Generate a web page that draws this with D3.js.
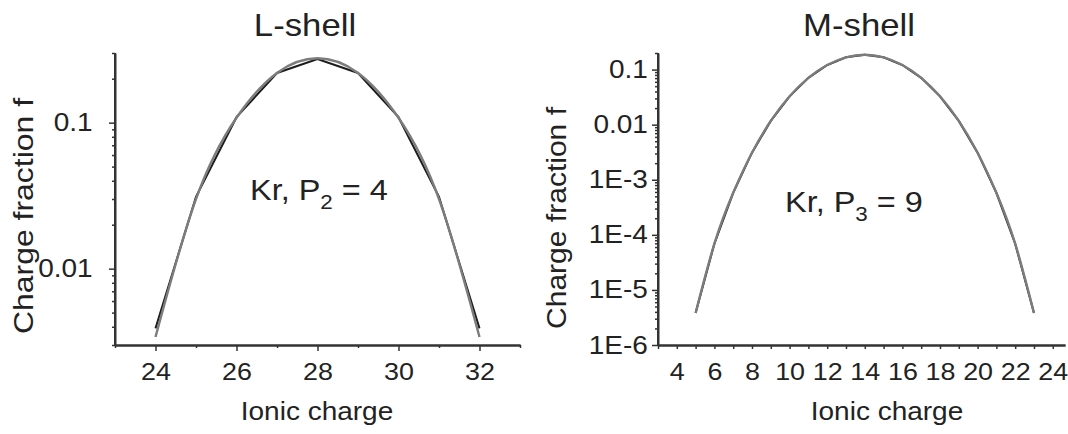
<!DOCTYPE html>
<html lang="en">
<head>
<meta charset="utf-8">
<title>Charge fraction - L-shell / M-shell</title>
<style>
body { margin: 0; background: #fff; }
svg text { font-family: "Liberation Sans", Arial, sans-serif; fill: #222; }
.axis path, .axis line { stroke: #333; fill: none; }
.axis path { stroke-width: 2; }
.axis line { stroke-width: 1.5; }
</style>
</head>
<body>
<div id="chart"></div>
<script src="https://d3js.org/d3.v7.min.js"></script>
<script>
  // ---- L-shell data (Kr, P2 = 4) ----
  const lCharge = [24, 25, 26, 27, 28, 29, 30, 31, 32];
  const lPoints = [0.0039, 0.031, 0.109, 0.219, 0.273, 0.219, 0.109, 0.031, 0.0039];
  const lSmooth = [0.0034, 0.030, 0.108, 0.219, 0.276, 0.219, 0.108, 0.030, 0.0034];
  const lXTicks = [24, 26, 28, 30, 32];
  const lXMinor = [23, 25, 27, 29, 31, 33];
  const lYTicks = [0.01, 0.1];
  const lYLabels = ["0.01", "0.1"];

  // ---- M-shell data (Kr, P3 = 9) ----
  const mCharge = [5, 6, 7, 8, 9, 10, 11, 12, 13, 14, 15, 16, 17, 18, 19, 20, 21, 22, 23];
  const mPoints = [3.8e-6, 6.9e-5, 5.8e-4, 3.1e-3, 0.0117, 0.0327, 0.0708, 0.121, 0.167, 0.186,
                   0.167, 0.121, 0.0708, 0.0327, 0.0117, 3.1e-3, 5.8e-4, 6.9e-5, 3.8e-6];
  const mXTicks = [4, 6, 8, 10, 12, 14, 16, 18, 20, 22, 24];
  const mXMinor = [3, 5, 7, 9, 11, 13, 15, 17, 19, 21, 23];
  const mYTicks = [1e-6, 1e-5, 1e-4, 1e-3, 0.01, 0.1];
  const mYLabels = ["1E-6", "1E-5", "1E-4", "1E-3", "0.01", "0.1"];

  const width = 1068, height = 434;
  const sx = 1.12; // text in the figure is a bit wide

  const svg = d3.select("#chart").append("svg")
    .attr("width", width)
    .attr("height", height);

  // minor ticks for a log axis: 2..9 of every decade inside the domain
  function logMinor(domain) {
    const out = [];
    for (let e = -7; e <= 0; e++) {
      for (let m = 2; m <= 9; m++) {
        const v = m * Math.pow(10, e);
        if (v >= domain[0] * 0.999 && v <= domain[1] * 1.001) out.push(v);
      }
    }
    return out;
  }

  function addText(g, x, y, str, size, opts = {}) {
    const t = g.append("text")
      .attr("transform", `translate(${x},${y}) scale(${sx},1)` + (opts.rotate ? " rotate(-90)" : ""))
      .attr("font-size", size)
      .attr("text-anchor", opts.anchor || "middle")
      .text(str);
    if (opts.len) t.attr("textLength", opts.len).attr("lengthAdjust", "spacingAndGlyphs");
    return t;
  }

  function panel(cfg) {
    const g = svg.append("g");
    const x = d3.scaleLinear().domain(cfg.xDomain).range(cfg.xRange);
    const y = d3.scaleLog().domain(cfg.yDomain).range([345, 53]);

    // x axis: minor then major
    g.append("g").attr("class", "axis")
      .attr("transform", "translate(0,345)")
      .call(d3.axisBottom(x).tickValues(cfg.xMinor).tickSize(cfg.xMinorSize).tickSizeOuter(0).tickFormat(""));
    const xa = g.append("g").attr("class", "axis")
      .attr("transform", "translate(0,345)")
      .call(d3.axisBottom(x).tickValues(cfg.xTicks).tickSize(cfg.xMajorSize).tickSizeOuter(0)
        .tickPadding(18 - cfg.xMajorSize).tickFormat(d3.format("d")));
    xa.selectAll("text").attr("font-size", 24).attr("fill", "#222")
      .attr("font-family", null).attr("transform", `scale(${sx},1)`);

    // y axis: minor then major
    g.append("g").attr("class", "axis")
      .attr("transform", `translate(${cfg.xRange[0]},0)`)
      .call(d3.axisLeft(y).tickValues(logMinor(cfg.yDomain)).tickSize(3).tickSizeOuter(0).tickFormat(""));
    const ya = g.append("g").attr("class", "axis")
      .attr("transform", `translate(${cfg.xRange[0]},0)`)
      .call(d3.axisLeft(y).tickValues(cfg.yTicks).tickSize(6).tickSizeOuter(0)
        .tickPadding(cfg.yPad).tickFormat((d, i) => cfg.yLabels[i]));
    ya.selectAll("text").attr("font-size", 25).attr("fill", "#222")
      .attr("font-family", null).attr("transform", `scale(${sx},1)`);
    ya.selectAll("path.domain").attr("d", `M0,${y.range()[0]}V${y.range()[1]}`);

    // curves
    const pts = cfg.charge.map((c, i) => [c, cfg.points[i]]);
    const smooth = cfg.charge.map((c, i) => [c, cfg.smooth[i]]);
    g.append("path")
      .datum(pts)
      .attr("fill", "none")
      .attr("stroke", "#1c1c1c")
      .attr("stroke-width", 2)
      .attr("d", d3.line().x(d => x(d[0])).y(d => y(d[1])));
    g.append("path")
      .datum(smooth)
      .attr("fill", "none")
      .attr("stroke", "#7c7c7c")
      .attr("stroke-width", 2.4)
      .attr("d", d3.line().curve(d3.curveNatural).x(d => x(d[0])).y(d => y(d[1])));

    // titles and labels
    addText(g, cfg.title[1], 36, cfg.title[0], 31);
    addText(g, cfg.xLabelX, 420, "Ionic charge", 25);
    addText(g, cfg.yLabelX, cfg.yLabelY, "Charge fraction f", 24, { rotate: true, len: cfg.yLabelLen })
      .attr("dy", "0.35em");

    const note = g.append("text")
      .attr("transform", `translate(${cfg.note.x},${cfg.note.y}) scale(${sx},1)`)
      .attr("font-size", 29);
    note.append("tspan").text("Kr, P");
    note.append("tspan").attr("font-size", 20).attr("dy", 9).text(cfg.note.sub);
    note.append("tspan").attr("dy", -9).text(" = " + cfg.note.val);
  }

  panel({
    xDomain: [23, 33], xRange: [115, 520],
    yDomain: [0.003, 0.3],
    xTicks: lXTicks, xMinor: lXMinor, xMajorSize: 6, xMinorSize: 3,
    yTicks: lYTicks, yLabels: lYLabels, yPad: 14,
    charge: lCharge, points: lPoints, smooth: lSmooth,
    title: ["L-shell", 305],
    xLabelX: 317, yLabelX: 24, yLabelY: 216, yLabelLen: 236,
    note: { x: 250, y: 200, sub: "2", val: "4" }
  });

  panel({
    xDomain: [3, 24.65], xRange: [658, 1065],
    yDomain: [1e-6, 0.2],
    xTicks: mXTicks, xMinor: mXMinor, xMajorSize: 4, xMinorSize: 4,
    yTicks: mYTicks, yLabels: mYLabels, yPad: 3,
    charge: mCharge, points: mPoints, smooth: mPoints,
    title: ["M-shell", 859],
    xLabelX: 887, yLabelX: 557, yLabelY: 218, yLabelLen: 222,
    note: { x: 785, y: 212, sub: "3", val: "9" }
  });
</script>
</body>
</html>
